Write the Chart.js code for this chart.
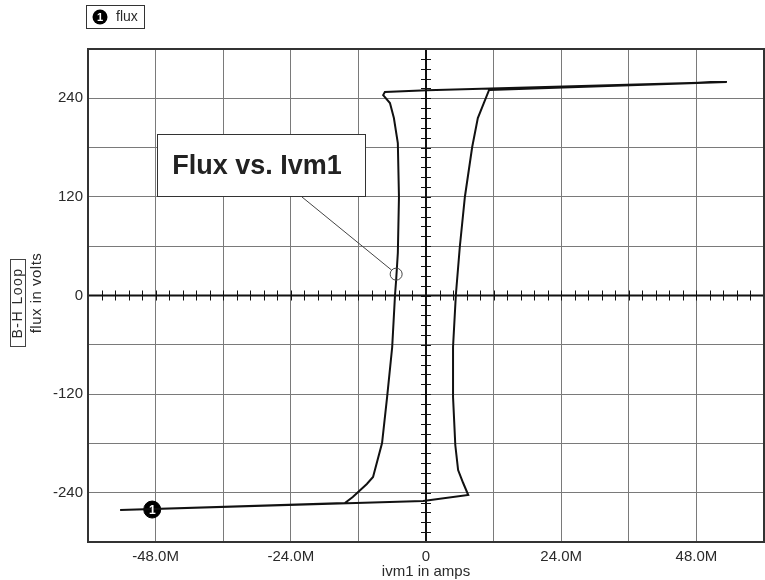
<!DOCTYPE html>
<html>
<head>
<meta charset="utf-8">
<script src="https://cdn.jsdelivr.net/npm/chart.js@4"></script>
<style>
  html, body { margin: 0; padding: 0; background: #fff; }
  #wrap { width: 765px; height: 580px; }
</style>
</head>
<body>
<div id="wrap"><canvas id="chartFlux" width="765" height="580"></canvas></div>
<script>
// ivm1 current (M amps) and flux (volts) along the traced B-H loop
const ivmCurrent = [-54.3, -0.5, 7.5, 6.6, 5.7, 5.2, 4.8, 4.8, 5.3, 6.0, 6.9, 8.2, 9.2, 11.2, 53.4,
                    0.2, -7.3, -7.6, -6.4, -5.7, -5.0, -4.8, -5.0, -5.3, -5.5, -6.0, -6.9, -7.8, -9.4, -10.5, -13.0, -14.4, -54.3];
const fluxVolts = [-261.0, -250.1, -242.8, -228.2, -212.4, -182.0, -123.5, -62.7, 0.6, 59.0, 119.9, 180.7, 216.0, 250.1, 259.8,
                   249.7, 247.6, 243.9, 234.3, 216.0, 185.6, 119.9, 51.7, 18.9, 0.6, -62.7, -123.5, -179.5, -220.9, -229.4, -245.2, -252.5, -261.0];

// trace marker "1" and the probe of the "Flux vs. Ivm1" label
const markerPoint = [-48.6, -260.5];
const probePoint = [-5.3, 26];

const xTickValues = [-48, -24, 0, 24, 48];
const xTickLabels = ['-48.0M', '-24.0M', '0', '24.0M', '48.0M'];
const yTickValues = [-240, -120, 0, 120, 240];
const yTickLabels = ['-240', '-120', '0', '120', '240'];

const fontFamily = "'Liberation Sans', Arial, sans-serif";
const textColor = '#2a2a2a';

Chart.defaults.font.family = fontFamily;
Chart.defaults.font.size = 15;
Chart.defaults.color = textColor;

const loopData = ivmCurrent.map((x, i) => ({ x, y: fluxVolts[i] }));

// frame, zero axes, legend, titles and the callout
const decorations = {
  id: 'decorations',
  beforeDatasetsDraw(chart) {
    const { ctx, chartArea: a, scales: { x, y } } = chart;
    const x0 = x.getPixelForValue(0);
    const y0 = y.getPixelForValue(0);
    ctx.save();
    ctx.strokeStyle = '#111';
    ctx.lineWidth = 2;
    ctx.beginPath();
    ctx.moveTo(x0, a.top); ctx.lineTo(x0, a.bottom);
    ctx.moveTo(a.left, y0); ctx.lineTo(a.right, y0);
    ctx.stroke();
    ctx.lineWidth = 1;
    ctx.beginPath();
    for (let v = -288; v <= 288; v += 12) {
      const py = Math.round(y.getPixelForValue(v)) + 0.5;
      ctx.moveTo(x0 - 5, py); ctx.lineTo(x0 + 5, py);
    }
    for (let k = -24; k <= 24; k++) {
      const px = Math.round(x.getPixelForValue(k * 2.4)) + 0.5;
      ctx.moveTo(px, y0 - 5); ctx.lineTo(px, y0 + 5);
    }
    ctx.stroke();
    ctx.strokeStyle = '#333';
    ctx.lineWidth = 2;
    ctx.strokeRect(a.left, a.top, a.right - a.left, a.bottom - a.top);
    ctx.restore();
  },
  afterDatasetsDraw(chart) {
    const { ctx, scales: { x, y } } = chart;
    ctx.save();

    // number inside the trace marker
    const mx = x.getPixelForValue(markerPoint[0]);
    const my = y.getPixelForValue(markerPoint[1]);
    ctx.fillStyle = '#fff';
    ctx.font = 'bold 12px ' + fontFamily;
    ctx.textAlign = 'center';
    ctx.textBaseline = 'middle';
    ctx.fillText('1', mx, my + 1);

    // probe circle and leader
    const px = x.getPixelForValue(probePoint[0]);
    const py = y.getPixelForValue(probePoint[1]);
    ctx.strokeStyle = '#444';
    ctx.lineWidth = 1;
    ctx.beginPath();
    ctx.arc(px, py, 6, 0, Math.PI * 2);
    ctx.stroke();
    ctx.beginPath();
    ctx.moveTo(302, 197);
    ctx.lineTo(px - 4.5, py - 4);
    ctx.stroke();

    // callout box
    ctx.fillStyle = '#fff';
    ctx.fillRect(157, 134, 209, 63);
    ctx.strokeStyle = '#333';
    ctx.strokeRect(157.5, 134.5, 208, 62);
    ctx.fillStyle = '#222';
    ctx.font = 'bold 27px ' + fontFamily;
    ctx.fillText('Flux vs. Ivm1', 257, 167);

    // legend
    ctx.strokeStyle = '#333';
    ctx.strokeRect(86.5, 5.5, 58, 23);
    ctx.fillStyle = '#000';
    ctx.beginPath();
    ctx.arc(100, 17, 7.5, 0, Math.PI * 2);
    ctx.fill();
    ctx.fillStyle = '#fff';
    ctx.font = 'bold 11px ' + fontFamily;
    ctx.fillText('1', 100, 17.5);
    ctx.fillStyle = textColor;
    ctx.font = '14px ' + fontFamily;
    ctx.textAlign = 'left';
    ctx.fillText('flux', 116, 17);

    // x axis title
    ctx.textAlign = 'center';
    ctx.font = '15px ' + fontFamily;
    ctx.fillText('ivm1 in amps', 426, 572);

    // y axis titles
    ctx.translate(18, 303);
    ctx.rotate(-Math.PI / 2);
    ctx.strokeStyle = '#444';
    ctx.strokeRect(-43.5, -7.5, 87, 15);
    ctx.font = '14px ' + fontFamily;
    ctx.letterSpacing = '1.5px';
    ctx.fillText('B-H Loop', 0, 0.5);
    ctx.letterSpacing = '0.5px';
    ctx.font = '15px ' + fontFamily;
    ctx.fillText('flux in volts', 10, 19);
    ctx.restore();
  }
};

new Chart(document.getElementById('chartFlux').getContext('2d'), {
  type: 'line',
  data: {
    datasets: [{
      label: 'flux',
      data: loopData,
      borderColor: '#111',
      borderWidth: 2,
      pointRadius: 0,
      tension: 0,
      fill: false
    }, {
      label: 'marker',
      data: [{ x: markerPoint[0], y: markerPoint[1] }],
      showLine: false,
      pointRadius: 8.5,
      pointBackgroundColor: '#000',
      pointBorderColor: '#000'
    }]
  },
  options: {
    responsive: false,
    animation: false,
    layout: { autoPadding: false, padding: { left: 0, top: 49, right: 1, bottom: 0 } },
    plugins: { legend: { display: false }, tooltip: { enabled: false } },
    scales: {
      x: {
        type: 'linear',
        min: -60,
        max: 60,
        afterFit(s) { s.height = 38; s.paddingLeft = 0; s.paddingRight = 0; },
        grid: { color: '#7a7a7a', lineWidth: 1, drawTicks: false },
        border: { display: false },
        ticks: {
          stepSize: 12,
          padding: 6,
          maxRotation: 0,
          autoSkip: false,
          callback(v) {
            const i = xTickValues.indexOf(v);
            return i < 0 ? '' : xTickLabels[i];
          }
        }
      },
      y: {
        type: 'linear',
        min: -300,
        max: 300,
        afterFit(s) { s.width = 88; s.paddingTop = 0; s.paddingBottom = 0; },
        grid: { color: '#7a7a7a', lineWidth: 1, drawTicks: false },
        border: { display: false },
        ticks: {
          stepSize: 60,
          padding: 5,
          autoSkip: false,
          callback(v) {
            const i = yTickValues.indexOf(v);
            return i < 0 ? '' : yTickLabels[i];
          }
        }
      }
    }
  },
  plugins: [decorations]
});
</script>
</body>
</html>
